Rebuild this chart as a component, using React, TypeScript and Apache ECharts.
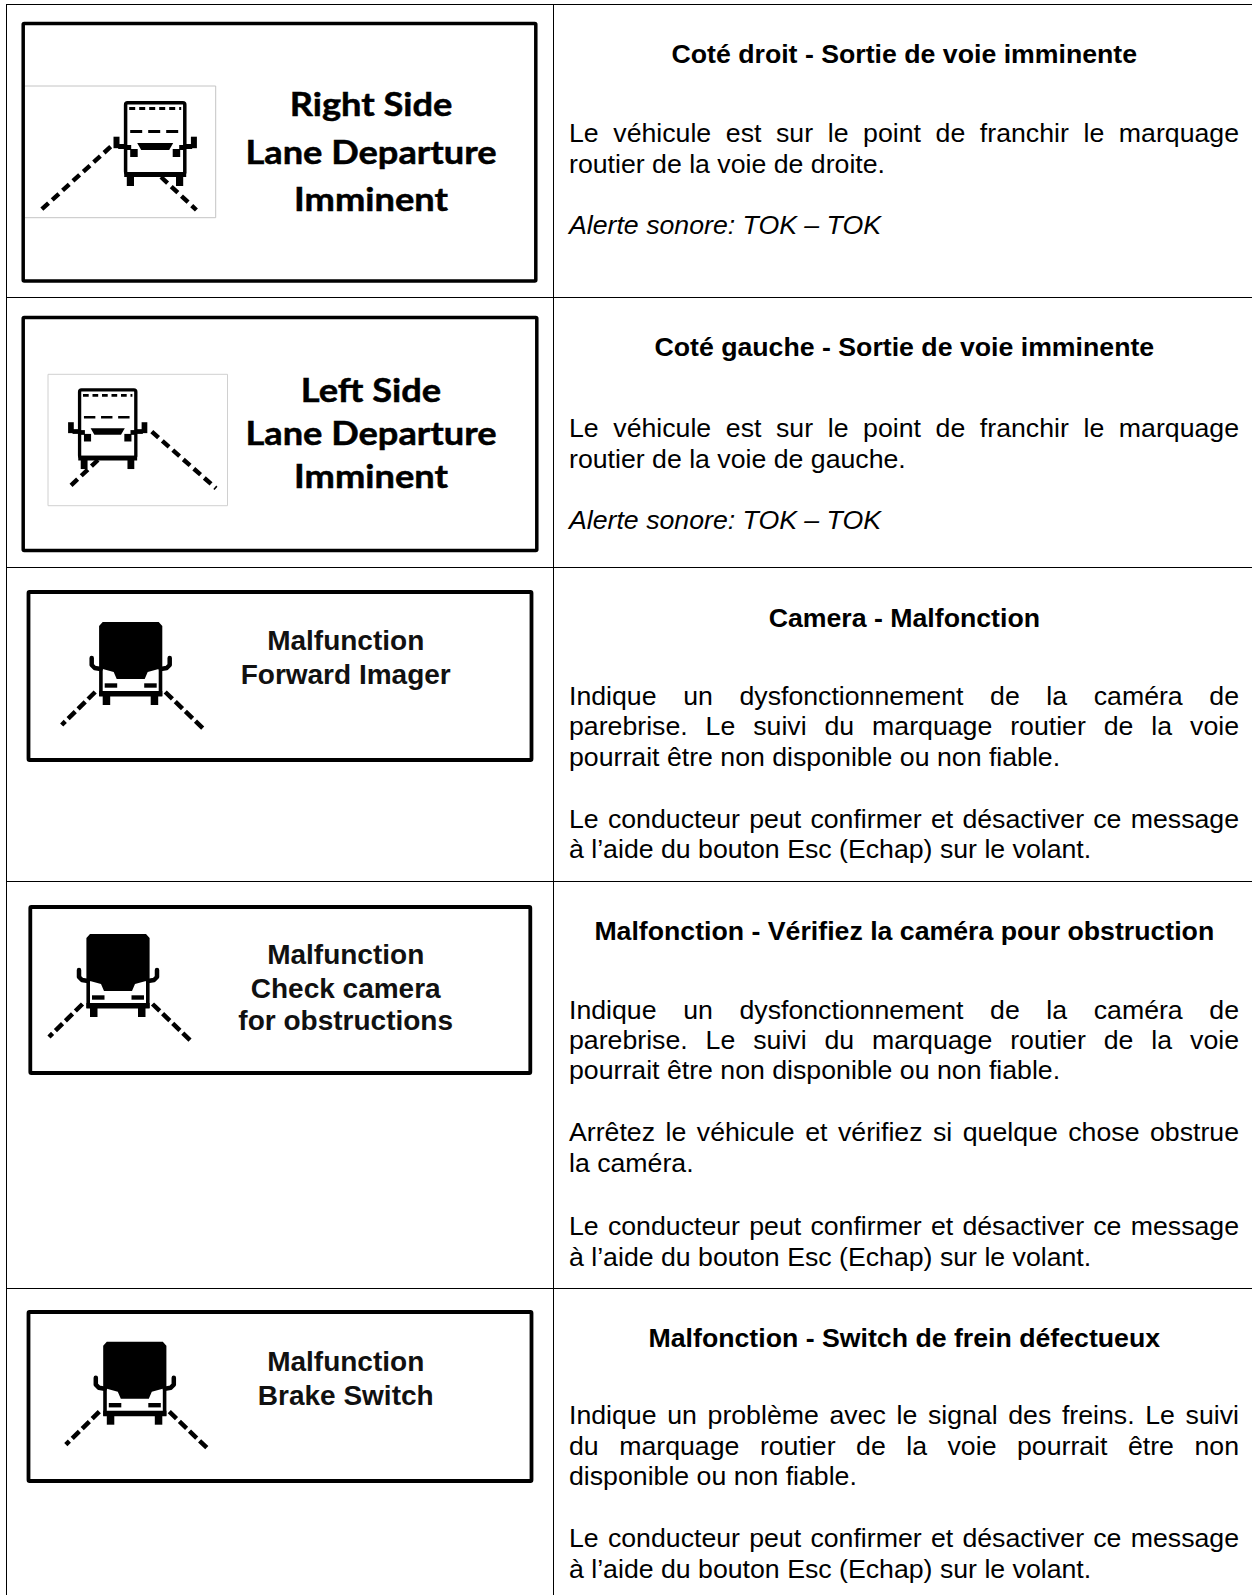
import React, { useEffect, useRef } from "react";
import * as echarts from "echarts";

const headings = [
  "Coté droit - Sortie de voie imminente",
  "Coté gauche - Sortie de voie imminente",
  "Camera - Malfonction",
  "Malfonction - Vérifiez la caméra pour obstruction",
  "Malfonction - Switch de frein défectueux",
];
const headingBaselines = [63, 356.7, 627, 939.8, 1347];

const panelTitles = [
  ["Right Side", "Lane Departure", "Imminent"],
  ["Left Side", "Lane Departure", "Imminent"],
  ["Malfunction", "Forward Imager"],
  ["Malfunction", "Check camera", "for obstructions"],
  ["Malfunction", "Brake Switch"],
];

const bodyTexts = [
  ["Le véhicule est sur le point de franchir le marquage", "routier de la voie de droite.", "Alerte sonore: TOK – TOK"],
  ["Le véhicule est sur le point de franchir le marquage", "routier de la voie de gauche.", "Alerte sonore: TOK – TOK"],
  ["Indique un dysfonctionnement de la caméra de", "parebrise. Le suivi du marquage routier de la voie", "pourrait être non disponible ou non fiable.", "Le conducteur peut confirmer et désactiver ce message", "à l’aide du bouton Esc (Echap) sur le volant."],
  ["Indique un dysfonctionnement de la caméra de", "parebrise. Le suivi du marquage routier de la voie", "pourrait être non disponible ou non fiable.", "Arrêtez le véhicule et vérifiez si quelque chose obstrue", "la caméra.", "Le conducteur peut confirmer et désactiver ce message", "à l’aide du bouton Esc (Echap) sur le volant."],
  ["Indique un problème avec le signal des freins. Le suivi", "du marquage routier de la voie pourrait être non", "disponible ou non fiable.", "Le conducteur peut confirmer et désactiver ce message", "à l’aide du bouton Esc (Echap) sur le volant."],
];
const bodyBaselines = [
  [142, 173.5, 234],
  [437.5, 468.5, 529],
  [705, 735, 766, 828.5, 858.5],
  [1019, 1049, 1079, 1141.7, 1172.7, 1235.5, 1266],
  [1424.5, 1455, 1485, 1547.7, 1578.7],
];
const justifiedLines = [
  [true, false, false],
  [true, false, false],
  [true, true, false, true, false],
  [true, true, false, true, false, true, false],
  [true, true, false, true, false],
];

const ARIAL = '"Liberation Sans"';
const BODY_FS = 26.7;
const BODY_L = 569;
const BODY_R = 1239;
const central = (base: number, fs: number) => base - 0.3465 * fs;

const ctx = document.createElement("canvas").getContext("2d") as CanvasRenderingContext2D;
function widthOf(s: string, font: string) {
  ctx.font = font;
  return ctx.measureText(s).width;
}

function text(x: number, base: number, s: string, o: any = {}) {
  const fs = o.fontSize ?? BODY_FS;
  return {
    type: "text",
    x,
    y: central(base, fs),
    scaleX: o.scaleX ?? 1,
    silent: true,
    style: {
      text: s,
      fill: o.fill ?? "#000",
      stroke: o.stroke,
      lineWidth: o.lineWidth ?? 0,
      fontFamily: o.fontFamily ?? ARIAL,
      fontSize: fs,
      fontWeight: o.fontWeight ?? "normal",
      fontStyle: o.fontStyle ?? "normal",
      align: o.align ?? "left",
      verticalAlign: "middle",
    },
  };
}

function bodyLine(s: string, base: number, justify: boolean, italic: boolean) {
  if (!justify) return [text(BODY_L, base, s, { fontStyle: italic ? "italic" : "normal" })];
  const font = `${BODY_FS}px ${ARIAL}`;
  const words = s.split(" ");
  const widths = words.map((w) => widthOf(w, font));
  const gap = (BODY_R - BODY_L - widths.reduce((a, b) => a + b, 0)) / (words.length - 1);
  let x = BODY_L;
  return words.map((w, i) => {
    const t = text(x, base, w);
    x += widths[i] + gap;
    return t;
  });
}

const line = (x1: number, y1: number, x2: number, y2: number, lw: number, extra: any = {}) => ({
  type: "line",
  silent: true,
  shape: { x1, y1, x2, y2 },
  style: { stroke: "#000", lineWidth: lw, ...extra },
});
const rect = (x: number, y: number, w: number, h: number, r = 0) => ({
  type: "rect",
  silent: true,
  shape: { x, y, width: w, height: h, r },
  style: { fill: "#000" },
});
const poly = (points: number[][]) => ({ type: "polygon", silent: true, shape: { points }, style: { fill: "#000" } });

function frame(x1: number, y1: number, x2: number, y2: number, lw: number) {
  return {
    type: "rect",
    silent: true,
    shape: { x: x1, y: y1, width: x2 - x1, height: y2 - y1, r: 1 },
    style: { fill: "#fff", stroke: "#000", lineWidth: lw },
  };
}

function outlineBus(cx: number, top: number, s: number) {
  const children = [
    { type: "rect", silent: true, shape: { x: -29.6, y: 1.7, width: 59.2, height: 71, r: 2 }, style: { fill: "none", stroke: "#000", lineWidth: 3.5 } },
    line(-26, 7.5, 26, 7.5, 2.8, { lineDash: [6, 4] }),
    line(-25, 30.5, 25, 30.5, 2.8, { lineDash: [12, 6] }),
    poly([[-18, 42], [18, 42], [14, 49], [-14, 49]]),
    rect(-31, 71, 62, 5),
    rect(-28.4, 74, 7.2, 11),
    rect(20.8, 74, 7.2, 11),
    rect(-41.7, 35.7, 6, 11.5),
    rect(35.7, 35.7, 6, 11.5),
    rect(-37, 43, 8, 5),
    rect(29, 43, 8, 5),
    rect(-30, 44, 6, 5),
    rect(24, 44, 6, 5),
    rect(-25, 48, 7.5, 8),
    rect(17.5, 48, 7.5, 8),
  ];
  return { type: "group", silent: true, x: cx, y: top, scaleX: s, scaleY: s, children };
}

function filledBus(cx: number, top: number) {
  const mirror = (sgn: number) => ({
    type: "polyline",
    silent: true,
    shape: { points: [[sgn * 39, 36], [sgn * 39, 43], [sgn * 36, 46], [sgn * 30, 47]] },
    style: { stroke: "#000", lineWidth: 4.5, fill: "none", lineCap: "round", lineJoin: "round" },
  });
  const children = [
    poly([[-31.6, 4], [-28, 0], [28, 0], [31.6, 4], [31.6, 46], [17, 50], [14, 57], [-14, 57], [-17, 50], [-31.6, 46]]),
    rect(-31.6, 46, 3.6, 28),
    rect(28, 46, 3.6, 28),
    rect(-31.6, 69, 63.2, 5.6),
    rect(-28, 74, 7.5, 9),
    rect(20, 74, 7.5, 9),
    rect(-26, 61.3, 12.5, 4.4),
    rect(13.5, 61.3, 12.5, 4.4),
    mirror(-1),
    mirror(1),
    line(-35.5, 70, -69, 103, 4.5, { lineDash: [10, 4] }),
    line(34.5, 70, 72.5, 106.5, 4.5, { lineDash: [10, 4] }),
  ];
  return { type: "group", silent: true, x: cx, y: top, children };
}

function buildGraphics() {
  const out: any[] = [];
  // table rules
  [4.5, 297.5, 567.5, 881.5, 1288.5].forEach((y) => out.push(line(6, y, 1252, y, 1)));
  out.push(line(6.5, 4, 6.5, 1595, 1), line(553.5, 4, 553.5, 1595, 1));

  // panel frames
  out.push(frame(23.2, 23.4, 535.8, 281, 3.5));
  out.push(frame(23.2, 317.4, 536.8, 550.6, 3.5));
  out.push(frame(28.5, 592, 531.5, 760, 3.8));
  out.push(frame(30.3, 907, 530.3, 1073, 3.8));
  out.push(frame(28.5, 1312, 531.5, 1481, 3.8));

  // thin picture borders
  out.push({
    type: "polyline",
    silent: true,
    shape: { points: [[25, 86], [215.7, 86], [215.7, 217.7], [25, 217.7]] },
    style: { stroke: "#c4c4c4", lineWidth: 1, fill: "none" },
  });
  out.push({
    type: "rect",
    silent: true,
    shape: { x: 48, y: 374.3, width: 179.5, height: 131.4 },
    style: { stroke: "#d0d0d0", lineWidth: 1, fill: "#fff" },
  });

  // buses and lane markings
  const laneDash = { lineDash: [9, 5] };
  out.push(outlineBus(155.2, 101, 1));
  out.push(line(110.7, 146.7, 41, 210, 4.4, laneDash));
  out.push(line(161, 177, 196.4, 210, 4.4, laneDash));
  out.push(outlineBus(107.7, 388.3, 0.95));
  out.push(line(98, 460, 67.9, 488.3, 4.4, laneDash));
  out.push(line(151.8, 431.7, 216, 488.3, 4.4, laneDash));
  out.push(filledBus(130.7, 622));
  out.push(filledBus(118, 934));
  out.push(filledBus(134.8, 1341.7));

  // panel titles
  const calibriLike = { fontFamily: "Lato", fontWeight: "bold", fontSize: 33, scaleX: 1.098, stroke: "#000", lineWidth: 0.5 };
  const arialTitle = { fontWeight: "bold", fontSize: 28, fill: "#111" };
  const titleCfg = [
    { cx: 371, bases: [114.7, 162.3, 209.5], font: calibriLike },
    { cx: 371, bases: [400.7, 443.3, 487], font: calibriLike },
    { cx: 345.7, bases: [650.7, 684.5], font: arialTitle },
    { cx: 345.7, bases: [964, 997.8, 1030.7], font: arialTitle },
    { cx: 345.7, bases: [1371.5, 1405], font: arialTitle },
  ];
  panelTitles.forEach((lines, i) => {
    const c = titleCfg[i];
    lines.forEach((s, j) => out.push(text(c.cx, c.bases[j], s, { ...c.font, align: "center" })));
  });

  // right column
  headings.forEach((h, i) => {
    out.push(text(904.3, headingBaselines[i], h, { fontWeight: "bold", align: "center" }));
    bodyTexts[i].forEach((s, j) => {
      out.push(...bodyLine(s, bodyBaselines[i][j], justifiedLines[i][j], s.startsWith("Alerte")));
    });
  });
  return out;
}

export default function App() {
  const ref = useRef<HTMLDivElement>(null);
  useEffect(() => {
    const chart = echarts.init(ref.current as HTMLDivElement, undefined, { renderer: "svg" });
    chart.setOption({ animation: false, backgroundColor: "#fff", graphic: { elements: buildGraphics() } });
    return () => chart.dispose();
  }, []);
  return <div ref={ref} style={{ position: "absolute", left: 0, top: 0, width: 1252, height: 1595 }} />;
}
